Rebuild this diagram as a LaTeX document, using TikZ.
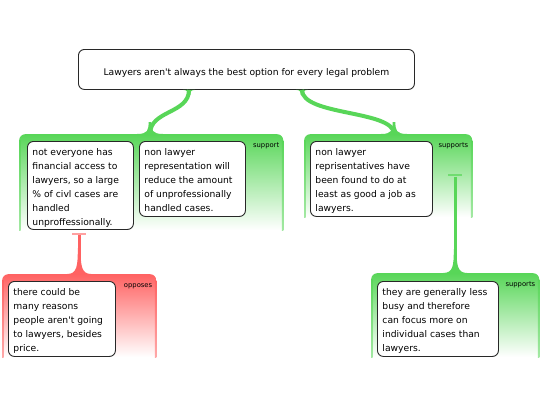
\documentclass[tikz,border=0pt]{standalone}
\usepackage{fontspec}
\setmainfont{DejaVu Sans}
\usetikzlibrary{calc}
\definecolor{grn}{RGB}{88,214,88}
\definecolor{rd}{RGB}{255,98,98}
\definecolor{bd}{RGB}{40,40,40}
\newcommand\myflare[5]{%
  \begin{scope}[shift={(#1)}, yscale=#5]
    \fill[#2] (-#3,0) .. controls (-2,0) and (-1.4,-#4/3) .. (-1.4,-#4) -- (1.4,-#4) .. controls (1.4,-#4/3) and (2,0) .. (#3,0) -- cycle;
  \end{scope}}
\newcommand\grpsides[2]{%
  \shade[top color=#2, bottom color=#2!55] ($(#1.north west)+(0,6)$) rectangle ($(#1.south west)+(1.6,0)$);
  \shade[top color=#2, bottom color=#2!55] ($(#1.north east)+(-1.6,6)$) rectangle (#1.south east);}
\newcommand\bt[3]{\parbox[t][#1][t]{#2}{\raggedright\strut #3}}
\begin{document}
\begin{tikzpicture}[x=1pt,y=-1pt,
  box/.style={draw=bd, line width=0.9pt, fill=white, rounded corners=6pt, anchor=north west,
    inner xsep=5pt, inner ysep=4.2pt, font=\fontsize{9.2}{14}\selectfont},
  grp/.style={anchor=north west, inner sep=0pt, rounded corners=6pt, top color=#1, bottom color=white},
  tag/.style={anchor=north east, inner sep=0pt, font=\fontsize{6.8}{8}\selectfont},
  gconn/.style={line width=4pt, draw=grn},
  vconn/.style={line width=3.4pt, draw=#1},
  tbar/.style={line width=2pt, draw=#1},
]
\useasboundingbox (0,0) rectangle (540,405);
\fill[white] (0,0) rectangle (540,405);

% groups
\node[grp=grn, minimum width=264pt, minimum height=96pt] (g1) at (19,134) {};
\node[grp=grn, minimum width=168pt, minimum height=83pt] (g2) at (304,134) {};
\node[grp=rd, minimum width=154pt, minimum height=83pt] (g3) at (2,274) {};
\node[grp=grn, minimum width=168pt, minimum height=84pt] (g4) at (371,273) {};
\grpsides{g1}{grn}
\grpsides{g2}{grn}
\grpsides{g3}{rd}
\grpsides{g4}{grn}

\node[tag] (t1) at ($(g1.north east)+(-4,9)$) {support};
\node[tag] (t2) at ($(g2.north east)+(-4,9)$) {supports};
\node[tag] (t3) at ($(g3.north east)+(-4,9)$) {opposes};
\node[tag] (t4) at ($(g4.north east)+(-4,9)$) {supports};

% top box
\node[draw=bd, line width=0.9pt, fill=white, rounded corners=6pt, anchor=north west,
  minimum width=336pt, minimum height=40pt, inner sep=0pt, text height=13pt, text depth=0pt,
  font=\fontsize{9.2}{11}\selectfont] (top) at (78,49)
  {Lawyers aren\textquotesingle t always the best option for every legal problem};

% boxes
\node[box] (b1) at (27,141) {\bt{79.6pt}{96pt}{not everyone has\\financial access to\\lawyers, so a large\\\% of civl cases are\\handled\\unproffessionally.}};
\node[box] (b2) at (139,141) {\bt{66.6pt}{96pt}{non lawyer\\representation will\\reduce the amount\\of unprofessionally\\handled cases.}};
\node[box] (b3) at (310,141) {\bt{66.6pt}{112pt}{non lawyer\\reprisentatives have\\been found to do at\\least as good a job as\\lawyers.}};
\node[box] (b4) at (8,281) {\bt{66.6pt}{97pt}{there could be\\many reasons\\people aren\textquotesingle t going\\to lawyers, besides\\price.}};
\node[box] (b5) at (377,281) {\bt{66.6pt}{111pt}{they are generally less\\busy and therefore\\can focus more on\\individual cases than\\lawyers.}};

% connectors
\coordinate (a1) at ($(top.south west)+(111,0)$);
\coordinate (e1) at ($(g1.north west)+(131,0)$);
\coordinate (a2) at ($(top.south west)+(224,0)$);
\coordinate (e2) at ($(g2.north west)+(90,0)$);
\draw[gconn] (a1) .. controls +(0,24) and +(0,-24) .. (e1);
\draw[gconn] (a2) .. controls +(0,26) and +(0,-24) .. (e2);
\myflare{a1}{grn}{6}{5}{-1}
\myflare{a2}{grn}{6}{5}{-1}
\myflare{e1}{grn}{13}{12}{1}
\myflare{e2}{grn}{13}{12}{1}

\coordinate (r0) at ($(g3.north |- b1.south)+(0,4)$);
\draw[tbar=rd!60] ($(r0)+(-7,0)$) -- ($(r0)+(7,0)$);
\draw[vconn=rd] ($(r0)+(0,1.5)$) -- (g3.north);
\myflare{g3.north}{rd}{12}{26}{1}

\coordinate (s0) at ($(g4.north |- g2.north)+(0,41)$);
\draw[tbar=grn!85] ($(s0)+(-7,0)$) -- ($(s0)+(7,0)$);
\draw[vconn=grn] ($(s0)+(0,1.5)$) -- (g4.north);
\myflare{g4.north}{grn}{12}{24}{1}
\end{tikzpicture}
\end{document}
